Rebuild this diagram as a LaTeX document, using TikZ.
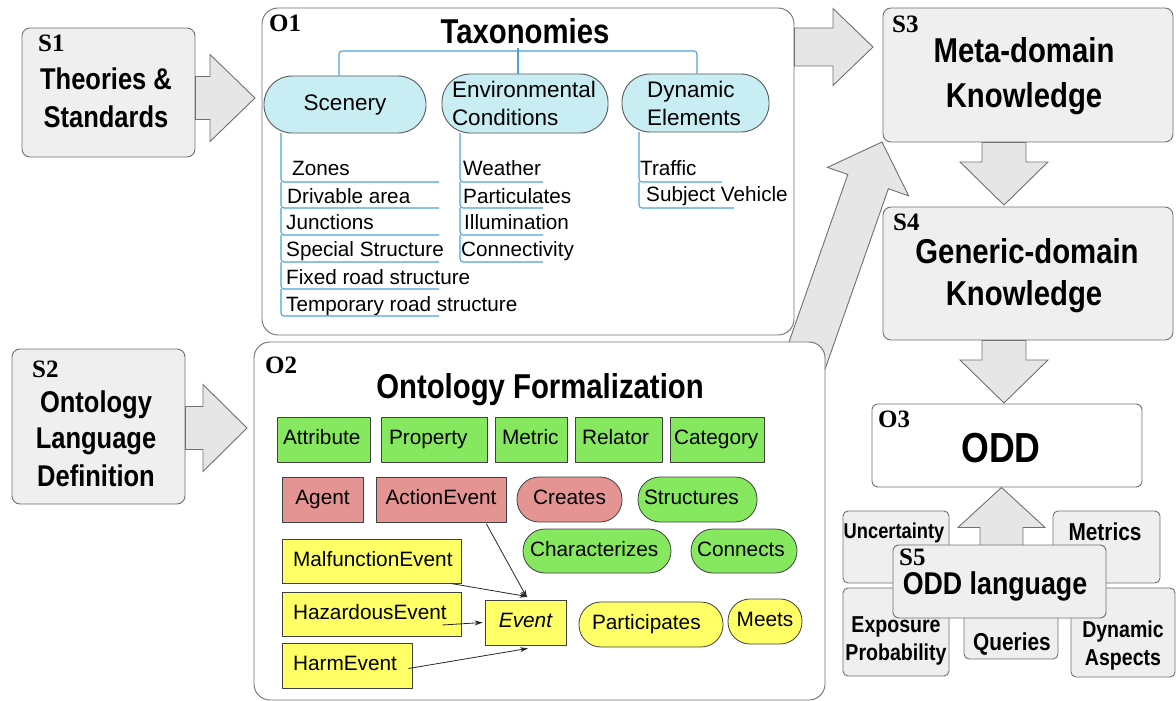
\documentclass[tikz,border=0pt]{standalone}
\usepackage{fontspec}
\setmainfont{Liberation Sans}
\newfontfamily\cond[FakeStretch=0.85]{Liberation Sans}
\newfontfamily\lser{Liberation Serif}
\usetikzlibrary{calc,arrows.meta}

\definecolor{boxgray}{HTML}{EFEFEF}
\definecolor{arrgray}{HTML}{E6E6E6}
\definecolor{edgegray}{HTML}{707070}
\definecolor{taxcyan}{HTML}{C8EEF3}
\definecolor{treeblue}{HTML}{4AA3DF}
\definecolor{ogreen}{HTML}{86E85E}
\definecolor{ored}{HTML}{E59494}
\definecolor{oyellow}{HTML}{FFFF66}

\tikzset{
 sbox/.style={draw=edgegray, fill=boxgray, line width=0.9pt, rounded corners=8pt, inner sep=0pt},
 obig/.style={draw=edgegray, fill=white, line width=0.9pt, rounded corners=16pt, inner sep=0pt},
 smallbox/.style={draw=edgegray, fill=boxgray, line width=0.9pt, rounded corners=5pt, inner sep=0pt},
 blockarrow/.style={draw=edgegray, fill=arrgray, line width=0.9pt, line join=miter},
 title/.style={font=\cond\bfseries\fontsize{34.5}{40}\selectfont, inner sep=0pt, anchor=base},
 sfont/.style={font=\cond\bfseries\fontsize{30}{36}\selectfont, inner sep=0pt, anchor=base},
 tag/.style={font=\lser\bfseries\fontsize{25}{28}\selectfont, inner sep=0pt, anchor=base west},
 tax/.style={draw=black!65, fill=taxcyan, line width=0.9pt, rounded corners=28pt, inner sep=0pt, font=\fontsize{22.5}{28}\selectfont},
 item/.style={font=\fontsize{20.7}{24}\selectfont, inner sep=0pt, anchor=base west},
 tree/.style={draw=treeblue, line width=1.1pt, rounded corners=3pt},
 obox/.style={draw=black!75, line width=0.8pt, font=\fontsize{20.8}{24}\selectfont, text height=15pt, text depth=4.5pt, inner ysep=0pt, inner xsep=0pt, minimum height=45pt},
 gbox/.style={obox, fill=ogreen},
 rbox/.style={obox, fill=ored},
 ybox/.style={obox, fill=oyellow},
 pill/.style={rounded corners=22pt},
 thinarrow/.style={draw=black!85, line width=0.8pt, -{Stealth[length=8pt,width=5pt]}},
}

\newcommand{\blockarr}[5]{%
  \coordinate (bab) at ($(#2)!#5!(#1)$);
  \draw[blockarrow] ($(#1)!#3!90:(#2)$) -- ($(bab)!#3!-90:(#1)$) -- ($(bab)!#4!-90:(#1)$) -- (#2) -- ($(bab)!#4!90:(#1)$) -- ($(bab)!#3!90:(#1)$) -- ($(#1)!#3!-90:(#2)$) -- cycle;
}

\begin{document}
\begin{tikzpicture}[x=1pt,y=-1pt]
\useasboundingbox (0,0) rectangle (1176,701);

% diagonal arrow from O2 towards S3 (behind the boxes)
\coordinate (d0) at (796,387);
\coordinate (d1) at (882,142);
\blockarr{d0}{d1}{21.5pt}{43pt}{42pt}

% ---------------- O1 ----------------
\node[obig, minimum width=532pt, minimum height=327pt] (O1) at (528,171.5) {};
\node[tag] (o1t) at (269,32) {O1};
\node[title] (taxt) at (525,44) {Taxonomies};
\node[tax, minimum width=162pt, minimum height=57pt] (sc) at (345,104.5) {Scenery};
\node[tax, minimum width=166pt, minimum height=59pt, text width=146pt, inner xsep=10pt, align=left] (env) at (525,103.5) {Environmental\\Conditions};
\node[tax, minimum width=147pt, minimum height=58pt, text width=97pt, inner xsep=25pt, align=left] (dy) at (695.5,103) {Dynamic\\Elements};

\coordinate (treetop) at (518,51);
\draw[tree] ([xshift=-6pt]sc.north) |- (treetop) -| ([xshift=1.5pt]dy.north);
\draw[tree] ([xshift=-7pt]env.north) -- (518,48);

\node[item] (i1) at (292,175) {Zones};
\node[item] (i2) at (287,203) {Drivable area};
\node[item] (i3) at (286,229) {Junctions};
\node[item] (i4) at (286,256) {Special Structure};
\node[item] (i5) at (286,284) {Fixed road structure};
\node[item] (i6) at (286,311) {Temporary road structure};
\foreach \ya/\yb in {133/182,182/208,208/235,235/262,262/289,289/316}
  \draw[tree] (281,\ya) -- (281,\yb) -- (439,\yb);

\node[item] (e1) at (463,175) {Weather};
\node[item] (e2) at (463,203) {Particulates};
\node[item] (e3) at (464,229) {Illumination};
\node[item] (e4) at (461,256) {Connectivity};
\foreach \ya/\yb in {133/182,182/208,208/235,235/262}
  \draw[tree] (460,\ya) -- (460,\yb) -- (543,\yb);

\node[item] (d1t) at (640,175) {Traffic};
\node[item] (d2t) at (646,201) {Subject Vehicle};
\draw[tree] (639,132) -- (639,182) -- (722,182);
\draw[tree] (639,182) -- (639,208) -- (734,208);

% ---------------- O2 ----------------
\node[obig, minimum width=571pt, minimum height=358pt] (O2) at (539.5,521) {};
\node[tag] (o2t) at (265,373) {O2};
\node[title] (oft) at (540,398) {Ontology Formalization};

\node[gbox, minimum width=93pt, text width=81pt, inner xsep=6pt, align=left] (attr) at (323.5,439.5) {Attribute};
\node[gbox, minimum width=106pt, text width=90pt, inner xsep=8pt, align=left] (prop) at (434,439.5) {Property};
\node[gbox, minimum width=72pt, text width=58pt, inner xsep=7pt, align=left] (metr) at (531,439.5) {Metric};
\node[gbox, minimum width=87pt, text width=73pt, inner xsep=7pt, align=left] (rel) at (618.5,439.5) {Relator};
\node[gbox, minimum width=94pt, text width=86pt, inner xsep=4pt, align=left] (cat) at (717,439.5) {Category};

\node[rbox, minimum width=81pt] (agent) at (322.5,499.5) {Agent};
\node[rbox, minimum width=130pt] (act) at (441,499.5) {ActionEvent};
\node[rbox, pill, minimum width=105pt] (creates) at (569.5,499.5) {Creates};
\node[gbox, pill, minimum width=119pt, text width=107pt, inner xsep=6pt, align=left] (struct) at (697.5,499.5) {Structures};
\node[gbox, pill, minimum width=148pt, minimum height=44pt, text width=134pt, inner xsep=7pt, align=left] (charz) at (597,551) {Characterizes};
\node[gbox, pill, minimum width=106pt, minimum height=44pt, text width=94pt, inner xsep=6pt, align=left] (conn) at (744,551) {Connects};

\node[ybox, minimum width=179pt, minimum height=44pt, text width=157pt, inner xsep=11pt, align=left] (mal) at (371.5,561) {MalfunctionEvent};
\node[ybox, minimum width=179pt, minimum height=44pt, text width=157pt, inner xsep=11pt, align=left] (haz) at (371.5,614) {HazardousEvent};
\node[ybox, minimum width=130pt, text width=108pt, inner xsep=11pt, align=left] (harm) at (347,665.5) {HarmEvent};
\node[ybox, minimum width=81pt, font=\fontsize{20.8}{24}\selectfont\itshape] (ev) at (525.5,622.5) {Event};
\node[ybox, pill, minimum width=144pt, text width=118pt, inner xsep=13pt, align=left] (part) at (651,624.5) {Participates};
\node[ybox, pill, minimum width=74pt] (meets) at (765,621.5) {Meets};

\draw[thinarrow] ([xshift=-20pt,yshift=-1.5pt]act.south east) -- ([xshift=1.5pt,yshift=2pt]ev.north);
\draw[thinarrow] ([xshift=-11pt]mal.south east) -- ([xshift=2pt,yshift=3pt]ev.north);
\draw[thinarrow] ([xshift=-19pt,yshift=-11pt]haz.east) -- ([xshift=-2pt]ev.west);
\draw[thinarrow] ([xshift=-4pt,yshift=-3pt]harm.east) -- ([xshift=2.5pt,yshift=-3pt]ev.south);

% ---------------- S1, S2 ----------------
\node[sbox, minimum width=173pt, minimum height=129pt] (S1) at (108.5,92.5) {};
\node[tag] (s1t) at (38,52) {S1};
\node[sfont] (s1a) at (106,89) {Theories \&};
\node[sfont] (s1b) at (106,127) {Standards};
\coordinate (a1t) at (255,98);
\coordinate (a1s) at (S1.east |- a1t);
\blockarr{a1s}{a1t}{21.5pt}{43.5pt}{45pt}

\node[sbox, minimum width=173pt, minimum height=155pt] (S2) at (98.5,426.5) {};
\node[tag] (s2t) at (32,377) {S2};
\node[sfont] (s2a) at (96,412) {Ontology};
\node[sfont] (s2b) at (96,448) {Language};
\node[sfont] (s2c) at (96,486) {Definition};
\coordinate (a2t) at (247,428);
\coordinate (a2s) at (S2.east |- a2t);
\blockarr{a2s}{a2t}{21.5pt}{43.5pt}{44pt}

% ---------------- S3, S4, O3 ----------------
\coordinate (a3t) at (873,47);
\coordinate (a3s) at (O1.east |- a3t);
\blockarr{a3s}{a3t}{19pt}{38.5pt}{40pt}

\node[sbox, minimum width=290pt, minimum height=134pt] (S3) at (1028,75) {};
\node[tag] (s3t) at (892,33) {S3};
\node[title] (s3a) at (1024,63) {Meta-domain};
\node[title] (s3b) at (1024,107) {Knowledge};

\node[sbox, minimum width=290pt, minimum height=133pt] (S4) at (1028,273.5) {};
\node[tag] (s4t) at (893,230) {S4};
\node[title] (s4a) at (1027,263) {Generic-domain};
\node[title] (s4b) at (1024,305) {Knowledge};

\coordinate (a4s) at (S3.south -| 1004,0);
\coordinate (a4t) at (1004,205);
\blockarr{a4s}{a4t}{22pt}{44pt}{43pt}
\coordinate (a5s) at (S4.south -| 1004,0);
\coordinate (a5t) at (1004,403);
\blockarr{a5s}{a5t}{22pt}{44pt}{43pt}

\node[obig, rounded corners=6pt, minimum width=270pt, minimum height=83pt] (O3) at (1007,445.5) {};
\node[tag] (o3t) at (878,427) {O3};
\node[font=\cond\bfseries\fontsize{42}{48}\selectfont, inner sep=0pt, anchor=base] (oddt) at (1001,462) {ODD};

% ---------------- S5 and aspects ----------------
\node[smallbox, minimum width=106pt, minimum height=72pt] (unc) at (896,547) {};
\node[font=\cond\bfseries\fontsize{21.5}{24}\selectfont, inner sep=0pt, anchor=base] (unct) at (894,538) {Uncertainty};
\node[smallbox, minimum width=107pt, minimum height=72pt] (met) at (1106.5,547) {};
\node[font=\cond\bfseries\fontsize{24.5}{28}\selectfont, inner sep=0pt, anchor=base] (mett) at (1105,540) {Metrics};
\node[smallbox, minimum width=106pt, minimum height=88pt] (exp) at (896,632) {};
\node[font=\cond\bfseries\fontsize{23}{28}\selectfont, inner sep=0pt, anchor=base] (expa) at (896,632) {Exposure};
\node[font=\cond\bfseries\fontsize{23}{28}\selectfont, inner sep=0pt, anchor=base] (expb) at (896,660) {Probability};
\node[smallbox, minimum width=94pt, minimum height=54pt] (que) at (1011,632) {};
\node[font=\cond\bfseries\fontsize{24.5}{28}\selectfont, inner sep=0pt, anchor=base] (quet) at (1012,650) {Queries};
\node[smallbox, minimum width=104pt, minimum height=89pt] (dyn) at (1123,632.5) {};
\node[font=\cond\bfseries\fontsize{23}{28}\selectfont, inner sep=0pt, anchor=base] (dyna) at (1123,637) {Dynamic};
\node[font=\cond\bfseries\fontsize{23}{28}\selectfont, inner sep=0pt, anchor=base] (dynb) at (1123,665) {Aspects};

\coordinate (a6s) at (1001.5,565);
\coordinate (a6t) at (O3.south -| 1001.5,0);
\blockarr{a6s}{a6t}{21.5pt}{43.5pt}{40pt}

\node[sbox, rounded corners=6pt, minimum width=213pt, minimum height=73pt] (S5) at (999.5,581.5) {};
\node[tag] (s5t) at (899,565) {S5};
\node[font=\cond\bfseries\fontsize{31.5}{36}\selectfont, inner sep=0pt, anchor=base] (s5a) at (995,594) {ODD language};

\end{tikzpicture}
\end{document}
